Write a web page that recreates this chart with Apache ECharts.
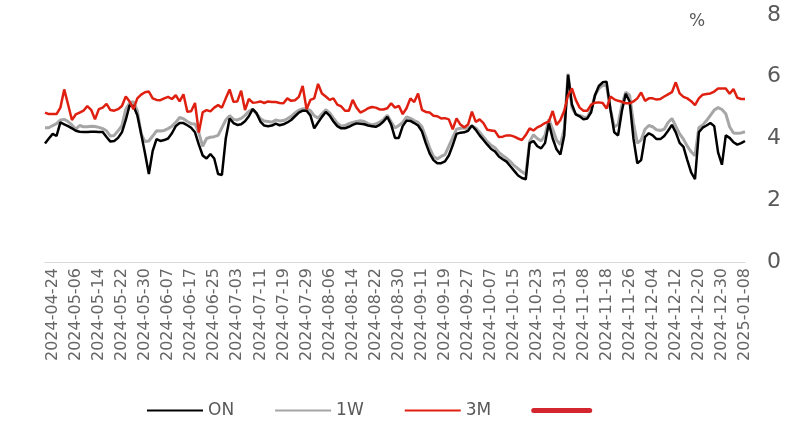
<!DOCTYPE html>
<html>
<head>
<meta charset="utf-8">
<script src="https://cdn.jsdelivr.net/npm/echarts@6/dist/echarts.min.js"></script>
<style>html,body{margin:0;padding:0;background:#fff;}#c{width:810px;height:446px;}</style>
</head>
<body>
<div id="c"></div>
<script>
const dates = [
"2024-04-22","2024-04-23","2024-04-24","2024-04-25","2024-04-26",
"2024-05-02","2024-05-03","2024-05-04","2024-05-06","2024-05-07","2024-05-08","2024-05-09","2024-05-10","2024-05-13","2024-05-14","2024-05-15","2024-05-16","2024-05-17","2024-05-20","2024-05-21","2024-05-22","2024-05-23","2024-05-24","2024-05-27","2024-05-28","2024-05-29","2024-05-30","2024-05-31",
"2024-06-03","2024-06-04","2024-06-05","2024-06-06","2024-06-07","2024-06-10","2024-06-11","2024-06-12","2024-06-13","2024-06-14","2024-06-17","2024-06-18","2024-06-19","2024-06-20","2024-06-21","2024-06-24","2024-06-25","2024-06-26","2024-06-27","2024-06-28",
"2024-07-01","2024-07-02","2024-07-03","2024-07-04","2024-07-05","2024-07-08","2024-07-09","2024-07-10","2024-07-11","2024-07-12","2024-07-15","2024-07-16","2024-07-17","2024-07-18","2024-07-19","2024-07-22","2024-07-23","2024-07-24","2024-07-25","2024-07-26","2024-07-29","2024-07-30","2024-07-31",
"2024-08-01","2024-08-02","2024-08-05","2024-08-06","2024-08-07","2024-08-08","2024-08-09","2024-08-12","2024-08-13","2024-08-14","2024-08-15","2024-08-16","2024-08-19","2024-08-20","2024-08-21","2024-08-22","2024-08-23","2024-08-26","2024-08-27","2024-08-28","2024-08-29","2024-08-30",
"2024-09-04","2024-09-05","2024-09-06","2024-09-09","2024-09-10","2024-09-11","2024-09-12","2024-09-13","2024-09-16","2024-09-17","2024-09-18","2024-09-19","2024-09-20","2024-09-23","2024-09-24","2024-09-25","2024-09-26","2024-09-27","2024-09-30",
"2024-10-01","2024-10-02","2024-10-03","2024-10-04","2024-10-07","2024-10-08","2024-10-09","2024-10-10","2024-10-11","2024-10-14","2024-10-15","2024-10-16","2024-10-17","2024-10-18","2024-10-21","2024-10-22","2024-10-23","2024-10-24","2024-10-25","2024-10-28","2024-10-29","2024-10-30","2024-10-31",
"2024-11-01","2024-11-04","2024-11-05","2024-11-06","2024-11-07","2024-11-08","2024-11-11","2024-11-12","2024-11-13","2024-11-14","2024-11-15","2024-11-18","2024-11-19","2024-11-20","2024-11-21","2024-11-22","2024-11-25","2024-11-26","2024-11-27","2024-11-28","2024-11-29",
"2024-12-02","2024-12-03","2024-12-04","2024-12-05","2024-12-06","2024-12-09","2024-12-10","2024-12-11","2024-12-12","2024-12-13","2024-12-16","2024-12-17","2024-12-18","2024-12-19","2024-12-20","2024-12-23","2024-12-24","2024-12-25","2024-12-26","2024-12-27","2024-12-30","2024-12-31",
"2025-01-02","2025-01-03","2025-01-06","2025-01-07","2025-01-08"
];

const seriesNames = ["ON", "1W", "3M", " "];

const onRate = [
3.84,4.00,4.15,4.08,4.52,4.46,4.40,4.33,4.25,4.22,4.21,4.21,4.22,4.22,4.21,4.21,4.05,3.90,3.92,4.02,
4.20,4.60,5.08,5.05,4.75,4.15,3.52,2.85,3.60,3.98,3.92,3.95,4.00,4.17,4.40,4.50,4.50,4.43,4.35,4.20,
3.80,3.45,3.35,3.50,3.35,2.85,2.82,4.00,4.65,4.50,4.44,4.46,4.56,4.72,4.95,4.82,4.55,4.42,4.40,4.42,
4.48,4.43,4.46,4.52,4.60,4.72,4.84,4.90,4.90,4.75,4.33,4.52,4.70,4.86,4.74,4.55,4.40,4.33,4.33,4.38,
4.44,4.49,4.48,4.46,4.42,4.40,4.38,4.44,4.55,4.70,4.45,4.02,4.02,4.40,4.58,4.57,4.50,4.42,4.23,3.85,
3.52,3.30,3.20,3.20,3.26,3.45,3.78,4.15,4.19,4.20,4.25,4.42,4.28,4.10,3.95,3.80,3.66,3.58,3.42,3.33,
3.25,3.10,2.95,2.80,2.72,2.68,3.85,3.92,3.75,3.68,3.85,4.49,4.00,3.65,3.48,4.10,6.06,5.10,4.78,4.72,
4.62,4.65,4.85,5.40,5.70,5.82,5.84,4.95,4.20,4.10,4.90,5.45,5.20,4.00,3.20,3.30,4.05,4.17,4.10,3.98,
3.98,4.08,4.25,4.44,4.20,3.86,3.73,3.30,2.90,2.68,4.20,4.35,4.42,4.50,4.40,3.55,3.15,4.10,4.02,3.88,
3.80,3.85,3.92
];

const w1Rate = [
4.35,4.35,4.42,4.48,4.60,4.62,4.55,4.44,4.30,4.42,4.38,4.38,4.40,4.39,4.36,4.32,4.25,4.08,4.10,4.25,
4.42,4.95,5.15,5.19,4.90,4.15,3.90,3.92,4.08,4.25,4.24,4.26,4.32,4.40,4.52,4.68,4.64,4.55,4.48,4.47,
4.18,3.75,4.00,4.04,4.06,4.10,4.35,4.60,4.74,4.62,4.60,4.65,4.75,4.88,4.95,4.80,4.65,4.57,4.55,4.53,
4.60,4.57,4.58,4.64,4.72,4.83,4.92,4.96,4.96,4.90,4.74,4.66,4.80,4.93,4.83,4.66,4.50,4.40,4.42,4.48,
4.52,4.55,4.58,4.55,4.48,4.44,4.47,4.53,4.62,4.75,4.54,4.34,4.42,4.52,4.70,4.65,4.58,4.52,4.38,4.05,
3.70,3.42,3.34,3.42,3.48,3.75,4.03,4.30,4.33,4.33,4.34,4.40,4.34,4.20,4.05,3.90,3.78,3.70,3.55,3.45,
3.36,3.25,3.12,3.02,2.92,2.84,3.90,4.12,4.00,3.92,4.10,4.62,4.30,3.95,3.80,4.30,6.10,5.00,4.78,4.75,
4.70,4.68,4.95,5.40,5.62,5.72,5.72,4.95,4.38,4.45,5.10,5.50,5.40,4.50,3.85,3.95,4.30,4.42,4.38,4.28,
4.26,4.30,4.52,4.65,4.40,4.15,3.98,3.75,3.57,3.44,4.35,4.44,4.58,4.75,4.92,5.00,4.94,4.80,4.38,4.18,
4.17,4.18,4.22
];

const m3Rate = [
4.84,4.79,4.79,4.79,5.00,5.59,5.10,4.60,4.78,4.84,4.90,5.05,4.93,4.62,4.95,5.00,5.12,4.92,4.90,4.95,
5.05,5.36,5.20,4.95,5.30,5.42,5.50,5.52,5.30,5.25,5.24,5.30,5.35,5.28,5.40,5.20,5.43,4.87,4.88,5.15,
4.19,4.85,4.92,4.88,5.00,5.08,5.00,5.30,5.59,5.19,5.20,5.55,4.92,5.28,5.16,5.17,5.20,5.15,5.20,5.18,
5.18,5.15,5.14,5.30,5.22,5.24,5.35,5.70,4.95,5.25,5.30,5.77,5.46,5.36,5.25,5.30,5.10,5.04,4.90,4.90,
5.25,5.00,4.84,4.90,4.98,5.02,5.00,4.94,4.94,4.98,5.14,5.00,5.06,4.79,4.98,5.30,5.18,5.46,4.93,4.86,
4.84,4.74,4.72,4.65,4.66,4.62,4.30,4.65,4.45,4.36,4.45,4.87,4.54,4.62,4.50,4.28,4.26,4.24,4.05,4.06,
4.10,4.10,4.06,4.00,3.95,4.11,4.33,4.26,4.36,4.42,4.50,4.55,4.89,4.44,4.60,4.90,5.40,5.62,5.25,5.00,
4.90,4.90,5.10,5.16,5.17,5.15,4.97,5.36,5.27,5.22,5.19,5.14,5.14,5.20,5.30,5.49,5.22,5.30,5.30,5.26,
5.28,5.36,5.43,5.50,5.82,5.46,5.35,5.30,5.21,5.08,5.30,5.42,5.44,5.46,5.52,5.62,5.62,5.62,5.45,5.60,
5.32,5.28,5.28
];

const yTicks = { min: 0, max: 8, step: 2 };
const unitLabel = "%";

const FONT = "'DejaVu Sans', sans-serif";
const chart = echarts.init(document.getElementById('c'), null, { renderer: 'canvas' });
chart.setOption({
  animation: false,
  backgroundColor: '#ffffff',
  grid: { left: 45, right: 65, top: 15, bottom: 184, containLabel: false, outerBoundsMode: 'none' },
  xAxis: {
    type: 'category',
    data: dates,
    boundaryGap: false,
    axisLine: { show: true, lineStyle: { color: '#d9d9d9', width: 1 } },
    axisTick: { show: false },
    axisLabel: {
      rotate: 90,
      interval: function (idx) { return idx % 6 === 2; },
      color: '#666666',
      fontSize: 16,
      fontFamily: FONT,
      margin: 6
    },
    splitLine: { show: false }
  },
  yAxis: {
    type: 'value',
    position: 'right',
    min: yTicks.min, max: yTicks.max, interval: yTicks.step,
    axisLine: { show: false },
    axisTick: { show: false },
    splitLine: { show: false },
    axisLabel: { color: '#595959', fontSize: 22, fontFamily: FONT, margin: 22 }
  },
  legend: {
    left: 141, top: 397,
    itemWidth: 56, itemHeight: 12,
    itemGap: 40,
    itemStyle: { opacity: 0 },
    textStyle: { color: '#595959', fontSize: 17, fontFamily: FONT },
    data: [
      { name: seriesNames[0] },
      { name: seriesNames[1] },
      { name: seriesNames[2] },
      { name: seriesNames[3], lineStyle: { cap: 'round', width: 5, color: '#d4262e' } }
    ]
  },
  graphic: [{
    type: 'text', left: 689, top: 13,
    style: { text: unitLabel, fill: '#595959', font: "17px " + FONT }
  }],
  series: [
    { name: seriesNames[0], type: 'line', data: onRate, symbol: 'none', lineStyle: { color: '#000000', width: 2.5 }, itemStyle: { color: '#000000' }, z: 3 },
    { name: seriesNames[1], type: 'line', data: w1Rate, symbol: 'none', lineStyle: { color: '#a6a6a6', width: 3 }, itemStyle: { color: '#a6a6a6' }, z: 2 },
    { name: seriesNames[2], type: 'line', data: m3Rate, symbol: 'none', lineStyle: { color: '#df2010', width: 2.5 }, itemStyle: { color: '#df2010' }, z: 4 },
    { name: seriesNames[3], type: 'line', data: [], symbol: 'none', lineStyle: { color: '#d4262e', width: 5, cap: 'round' }, itemStyle: { color: '#d4262e' } }
  ]
});
</script>
</body>
</html>
